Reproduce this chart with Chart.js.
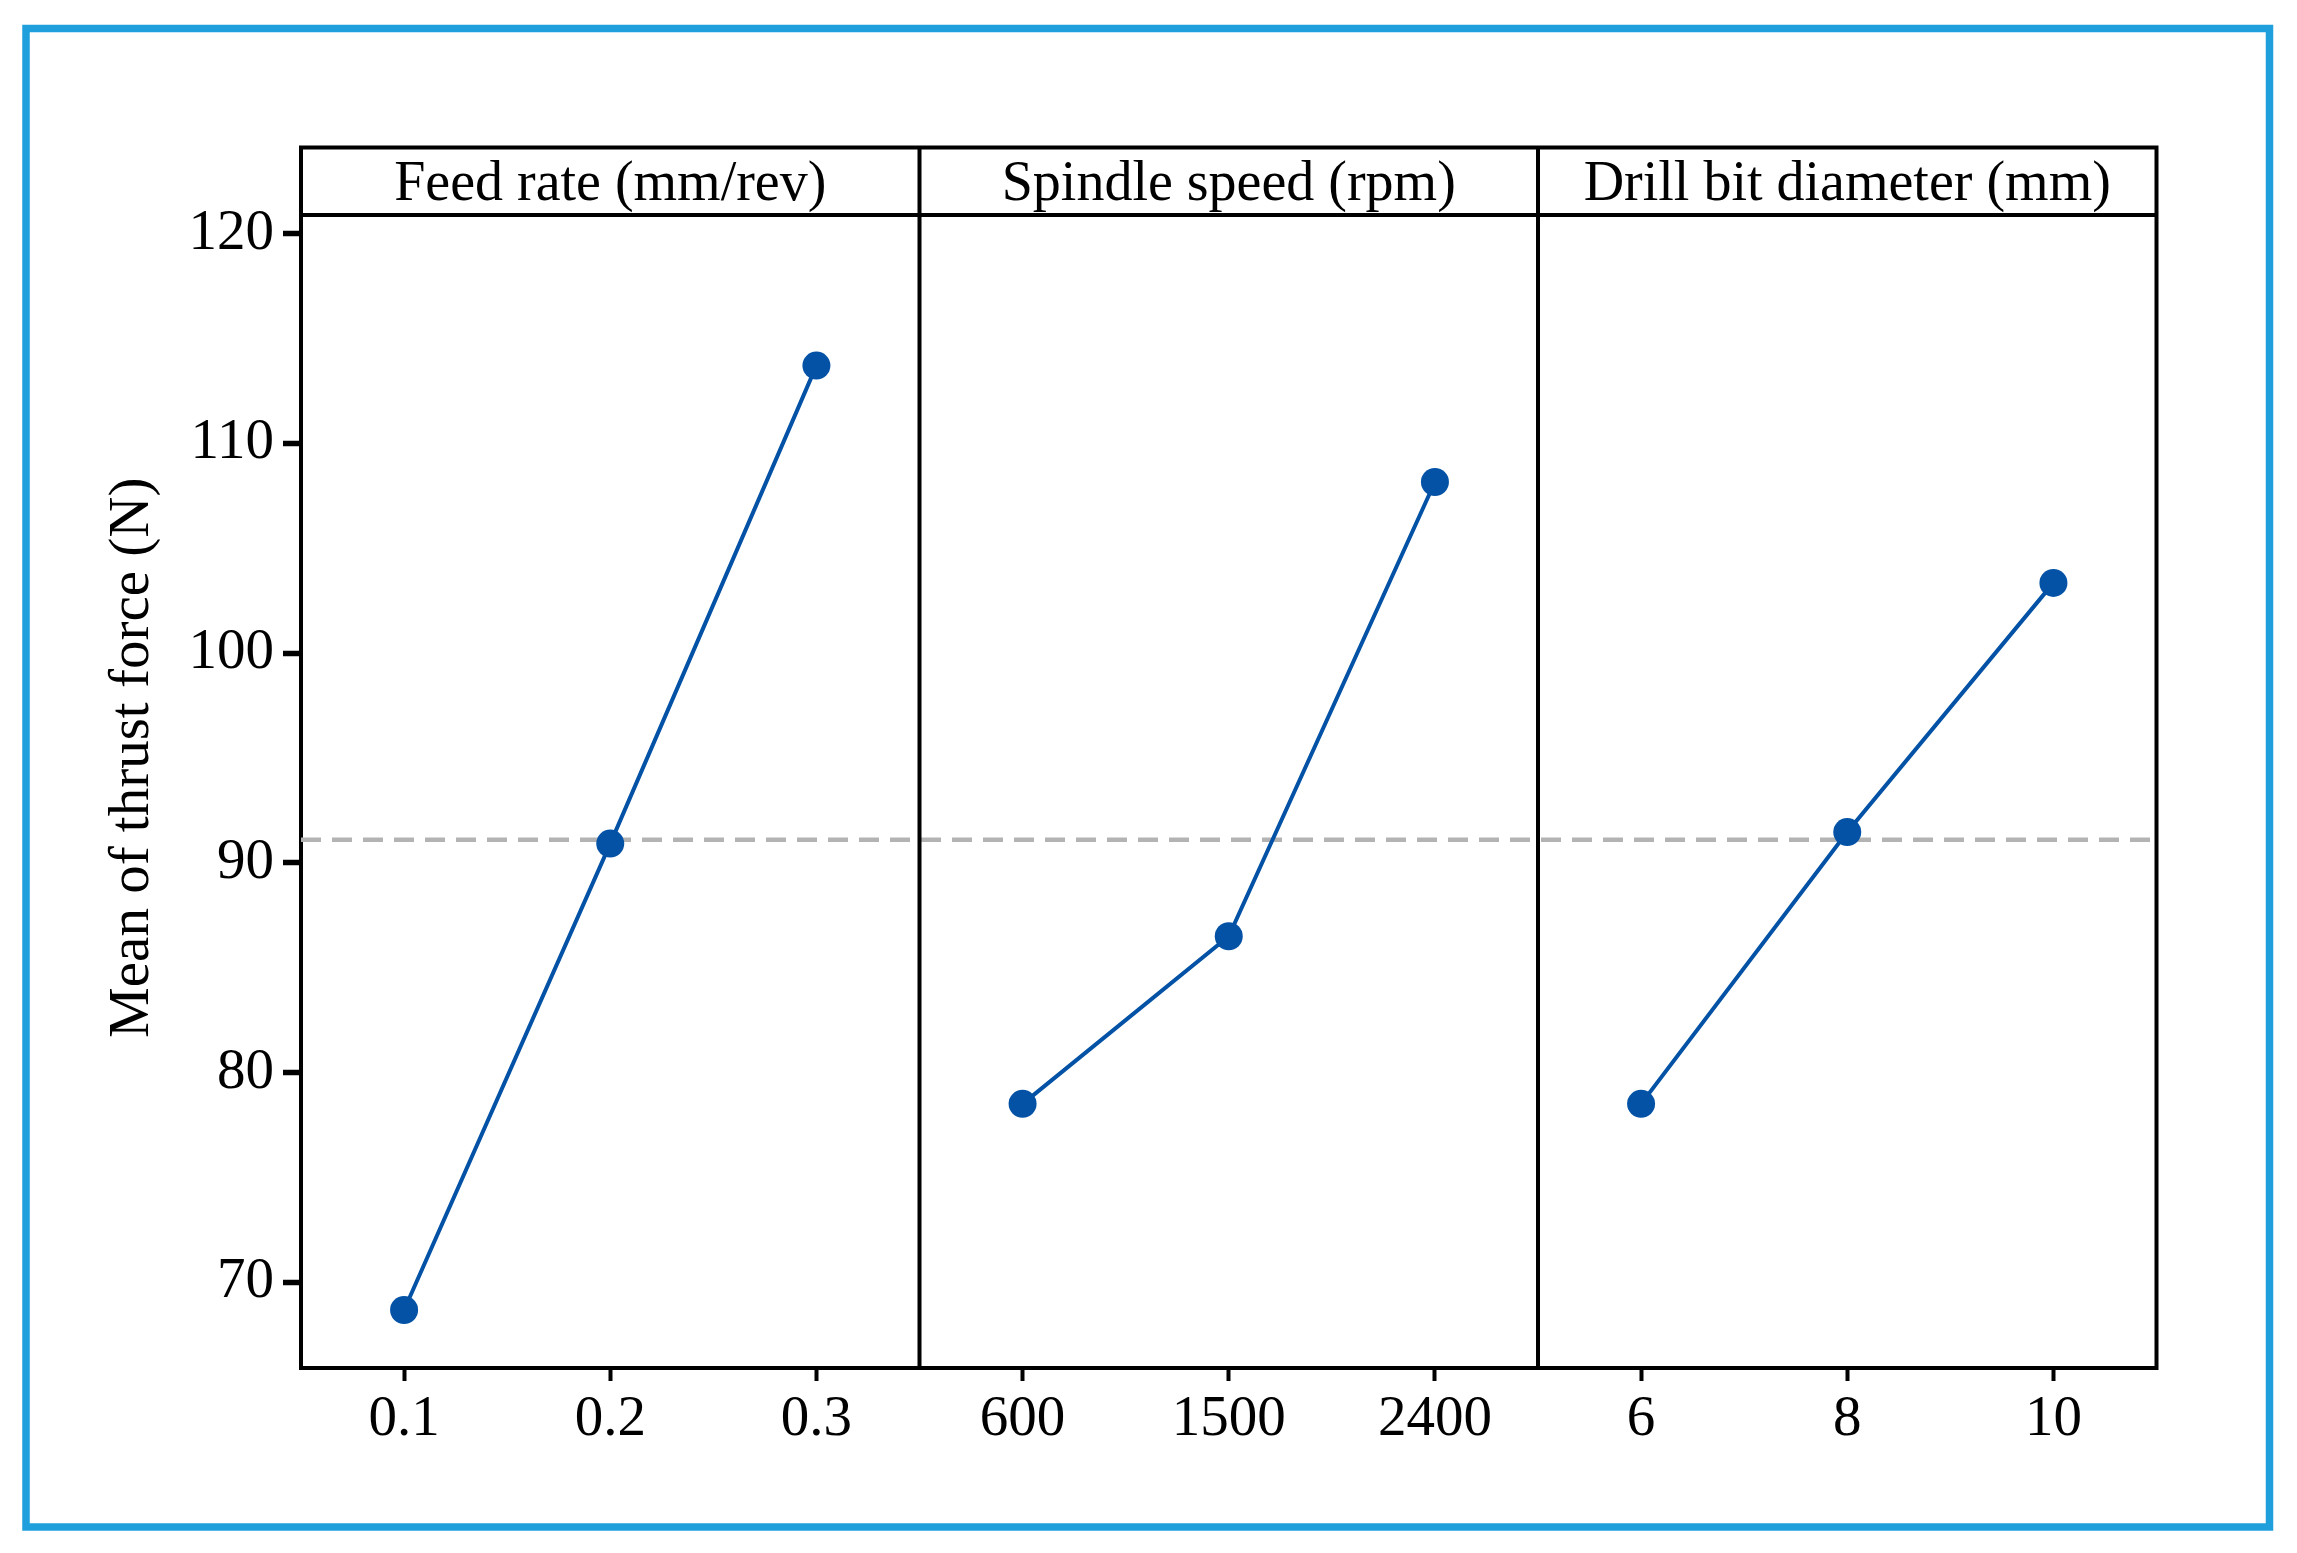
<!DOCTYPE html>
<html>
<head>
<meta charset="utf-8">
<title>Main effects plot for thrust force</title>
<script src="https://cdn.jsdelivr.net/npm/chart.js@4.4.0/dist/chart.umd.min.js"></script>
<style>
  html, body { margin: 0; padding: 0; background: #fff; }
  #wrap { width: 2297px; height: 1553px; }
</style>
</head>
<body>
<div id="wrap"><canvas id="efeitos" width="2297" height="1553"></canvas></div>
<script>
// Levels of each factor (x tick labels)
var feedRates = ['0.1', '0.2', '0.3'];
var spindleSpeeds = ['600', '1500', '2400'];
var drillDiameters = ['6', '8', '10'];

// Mean thrust force (N) at each level
var feedRateMeans = [68.68, 90.92, 113.71];
var spindleSpeedMeans = [78.51, 86.50, 108.16];
var drillDiameterMeans = [78.51, 91.47, 103.35];

// Grand mean (dashed reference line)
var grandMean = 91.1;

// Panel titles, y ticks and axis title
var factorNames = ['Feed rate (mm/rev)', 'Spindle speed (rpm)', 'Drill bit diameter (mm)'];
var yTicks = [70, 80, 90, 100, 110, 120];
var yTitle = 'Mean of thrust force (N)';

var serif = '"Liberation Serif", "Times New Roman", serif';
var blue = '#0352a6';

// All x labels side by side, one slot per level
var levels = [feedRates, spindleSpeeds, drillDiameters];
var means = [feedRateMeans, spindleSpeedMeans, drillDiameterMeans];
var xLabels = feedRates.concat(spindleSpeeds, drillDiameters);

// One line per panel, so panels are not joined
var datasets = levels.map(function(lv, i) {
    return {
        label: factorNames[i],
        data: lv.map(function(_, j) { return { x: i * 3 + j, y: means[i][j] }; }),
        borderColor: blue,
        backgroundColor: blue,
        borderWidth: 4,
        pointRadius: 14,
        pointBorderWidth: 0,
        pointBackgroundColor: blue
    };
});

// Dashed line across all panels (drawn underneath)
datasets.push({
    label: 'Mean',
    data: [{ x: -0.5, y: grandMean }, { x: xLabels.length - 0.5, y: grandMean }],
    borderColor: '#b3b3b3',
    borderWidth: 4.5,
    borderDash: [20, 11],
    pointRadius: 0
});

// Frame, strip with panel titles, separators and y title
var molduraPlugin = {
    id: 'moldura',
    beforeDraw: function(chart) {
        var ctx = chart.ctx;
        ctx.save();
        ctx.strokeStyle = '#1f9fdb';
        ctx.lineWidth = 7.5;
        ctx.strokeRect(26, 28.5, 2243.5, 1498.5);
        ctx.restore();
    },
    afterDraw: function(chart) {
        var ctx = chart.ctx, a = chart.chartArea, xs = chart.scales.x;
        var stripTop = 147.5;
        ctx.save();
        ctx.strokeStyle = '#000';
        ctx.lineWidth = 4;
        ctx.lineCap = 'square';
        ctx.beginPath();
        ctx.moveTo(a.left, stripTop); ctx.lineTo(a.right, stripTop);
        ctx.moveTo(a.left, a.top); ctx.lineTo(a.right, a.top);
        ctx.moveTo(a.left, stripTop); ctx.lineTo(a.left, a.top);
        ctx.moveTo(a.right, stripTop); ctx.lineTo(a.right, a.bottom);
        for (var k = 1; k < levels.length; k++) {
            var px = xs.getPixelForValue(k * 3 - 0.5);
            ctx.moveTo(px, stripTop); ctx.lineTo(px, a.bottom);
        }
        ctx.stroke();

        ctx.fillStyle = '#000';
        ctx.font = '56px ' + serif;
        ctx.textAlign = 'center';
        ctx.textBaseline = 'alphabetic';
        factorNames.forEach(function(n, i) {
            ctx.fillText(n, xs.getPixelForValue(i * 3 + 1), a.top - 15);
        });

        // Y title centred on the whole frame (strip included)
        ctx.font = '57px ' + serif;
        ctx.translate(148, (stripTop + a.bottom) / 2);
        ctx.rotate(-Math.PI / 2);
        ctx.fillText(yTitle, 0, 0);
        ctx.restore();
    }
};

var ctx = document.getElementById('efeitos').getContext('2d');
var myChart = new Chart(ctx, {
    type: 'line',
    data: { datasets: datasets },
    options: {
        responsive: false,
        animation: false,
        devicePixelRatio: 1,
        layout: { padding: { top: 215, right: 140.5, left: 0, bottom: 0 } },
        plugins: { legend: { display: false }, tooltip: { enabled: false } },
        scales: {
            x: {
                type: 'linear',
                position: 'bottom',
                min: -0.5,
                max: xLabels.length - 0.5,
                afterBuildTicks: function(axis) {
                    axis.ticks = xLabels.map(function(_, i) { return { value: i }; });
                },
                afterFit: function(scale) { scale.height = 185; },
                grid: { drawOnChartArea: false, tickLength: 13, tickWidth: 4, tickColor: '#000' },
                border: { display: true, width: 4, color: '#000' },
                ticks: {
                    padding: 5,
                    color: '#000',
                    font: { family: serif, size: 57 },
                    maxRotation: 0,
                    autoSkip: false,
                    callback: function(v) { return xLabels[Math.round(v)]; }
                }
            },
            y: {
                min: 65.914,
                max: 120.892,
                afterBuildTicks: function(axis) {
                    axis.ticks = yTicks.map(function(v) { return { value: v }; });
                },
                afterFit: function(scale) { scale.width = 301; },
                grid: { drawOnChartArea: false, tickLength: 18, tickWidth: 5.5, tickColor: '#000' },
                border: { display: true, width: 4, color: '#000' },
                ticks: {
                    padding: 9,
                    color: '#000',
                    font: { family: serif, size: 57 },
                    callback: function(v) { return String(v); }
                }
            }
        }
    },
    plugins: [molduraPlugin]
});
</script>
</body>
</html>
